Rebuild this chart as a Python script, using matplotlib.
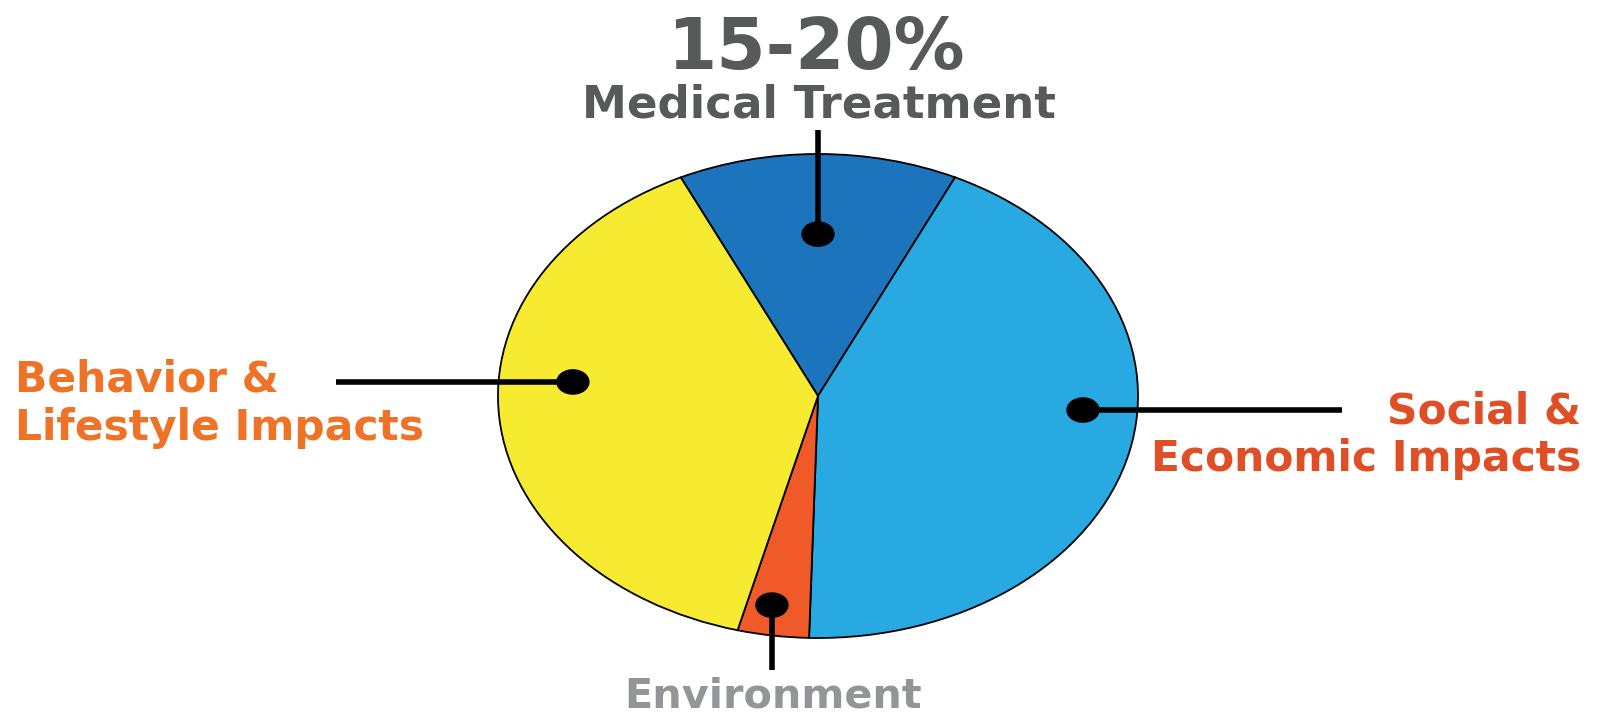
import matplotlib
matplotlib.use("Agg")
import matplotlib.pyplot as plt
from matplotlib.patches import Ellipse

# share of health outcomes (percent)
labels = ["Medical Treatment", "Social & Economic Impacts", "Environment", "Behavior & Lifestyle Impacts"]
shares = [14.1, 43.4, 3.6, 38.9]
colors = ["#1c75bc", "#29a9e1", "#f05a28", "#f6eb31"]

W, H = 1598, 715
fig = plt.figure(figsize=(W / 100, H / 100), dpi=100)
fig.patch.set_facecolor("white")

# axes box = bounding box of the (stretched) pie
ax = fig.add_axes([498 / W, 1 - 638 / H, 640 / W, 484 / H])
ax.pie(
    shares,
    colors=colors,
    startangle=115.4,
    counterclock=False,
    wedgeprops=dict(edgecolor="black", linewidth=1.3),
)
ax.set_aspect("auto")
ax.set_xlim(-1, 1)
ax.set_ylim(-1, 1)
ax.axis("off")

# leader lines + dots (data coords of the pie axes)
leaders = [
    ((0.0, 0.669), (0.0, 1.10)),      # medical
    ((0.828, -0.058), (1.638, -0.058)),  # social
    ((-0.144, -0.864), (-0.144, -1.132)),  # environment
    ((-0.766, 0.058), (-1.506, 0.058)),  # behavior
]
for (dx, dy), (ex, ey) in leaders:
    ax.plot([dx, ex], [dy, ey], color="black", lw=4, clip_on=False, solid_capstyle="butt")
    ax.add_patch(Ellipse((dx, dy), 0.1, 0.1, color="black", clip_on=False))

font = "DejaVu Sans"
fig.text(816 / W, 1 - 69 / H, "15-20%", ha="center", va="baseline",
         fontsize=51, fontweight="bold", color="#58595b", family=font)
fig.text(819 / W, 1 - 118 / H, "Medical Treatment", ha="center", va="baseline",
         fontsize=32.5, fontweight="bold", color="#58595b", family=font)
fig.text(15 / W, 1 - 392 / H, "Behavior &", ha="left", va="baseline",
         fontsize=30.5, fontweight="bold", color="#ee7326", family=font)
fig.text(15 / W, 1 - 440 / H, "Lifestyle Impacts", ha="left", va="baseline",
         fontsize=30.5, fontweight="bold", color="#ee7326", family=font)
fig.text(1581 / W, 1 - 424 / H, "Social &", ha="right", va="baseline",
         fontsize=30.5, fontweight="bold", color="#e04e26", family=font)
fig.text(1581 / W, 1 - 471 / H, "Economic Impacts", ha="right", va="baseline",
         fontsize=30.5, fontweight="bold", color="#e04e26", family=font)
fig.text(773 / W, 1 - 707 / H, "Environment", ha="center", va="baseline",
         fontsize=29.8, fontweight="bold", color="#939598", family=font)

fig.savefig("out.png", dpi=100, facecolor="white")
